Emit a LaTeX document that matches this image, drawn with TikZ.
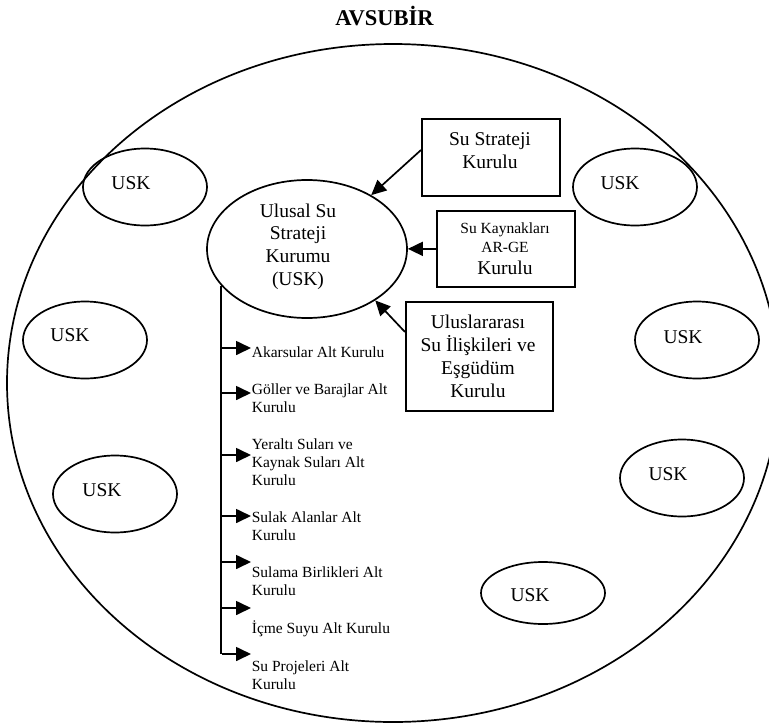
\documentclass[tikz,border=0pt]{standalone}
\usepackage{fontspec}
\setmainfont{Liberation Serif}
\usetikzlibrary{shapes.geometric,arrows.meta}
\newcommand\cvlines[1]{\vtop{\halign{\hfil##\hfil\cr#1\crcr}}}
\newcommand\lvlines[1]{\vtop{\halign{##\hfil\cr#1\crcr}}}
\begin{document}
\begin{tikzpicture}[x=1pt,y=-1pt,line width=1.7pt,
  usk/.style={ellipse,draw,minimum width=124pt,minimum height=77pt,inner sep=0pt},
  uskt/.style={inner sep=0pt,font=\fontsize{19.5}{23}\selectfont},
  bigt/.style={inner sep=0pt,anchor=base},
  smallt/.style={inner sep=0pt,font=\fontsize{15.5}{18}\selectfont,anchor=base west},
  boxn/.style={draw,rectangle,inner sep=0pt,anchor=north west},
  arr/.style={-{Triangle[length=15pt,width=14pt]}}]
\useasboundingbox (0,0) rectangle (769,726);
\clip (0,0) rectangle (769,726);
% title
\node[inner sep=0pt,anchor=base,font=\bfseries\fontsize{22.5}{27}\selectfont] (title) at (384.5,25) {AVSUBİR};
% big ellipse
\node[ellipse,draw,minimum width=772pt,minimum height=678pt,inner sep=0pt] (avs) at (393,383) {};
% USK ellipses
\node[usk] (u1) at (145,187) {};
\node[usk] (u2) at (635,187) {};
\node[usk] (u3) at (85,340) {};
\node[usk] (u4) at (115,494) {};
\node[usk] (u5) at (697,340) {};
\node[usk] (u6) at (682,478) {};
\node[usk,minimum height=62pt] (u7) at (543,593) {};
\node[uskt] (u1t) at ([shift={(-14pt,4pt)}]u1.center) {USK};
\node[uskt] (u2t) at ([shift={(-15pt,4pt)}]u2.center) {USK};
\node[uskt] (u3t) at ([shift={(-15pt,5pt)}]u3.center) {USK};
\node[uskt] (u4t) at ([shift={(-13pt,4pt)}]u4.center) {USK};
\node[uskt] (u5t) at ([shift={(-14pt,3pt)}]u5.center) {USK};
\node[uskt] (u6t) at ([shift={(-14pt,4pt)}]u6.center) {USK};
\node[uskt] (u7t) at ([shift={(-13pt,-2pt)}]u7.center) {USK};
% central ellipse
\node[ellipse,draw,minimum width=200pt,minimum height=138pt,inner sep=0pt] (c) at (307,249) {};
\node[bigt,font=\fontsize{19.5}{22.7}\selectfont] (ct) at (298,217) {\cvlines{Ulusal Su\cr Strateji\cr Kurumu\cr (USK)}};
% boxes
\node[boxn,minimum width=138pt,minimum height=77pt] (b1) at (421,118) {};
\node[bigt,font=\fontsize{19.5}{23}\selectfont] (b1t) at (490,145) {\cvlines{Su Strateji\cr Kurulu}};
\node[boxn,minimum width=138pt,minimum height=76pt] (b2) at (436,210) {};
\node[bigt,font=\fontsize{15.5}{19}\selectfont] (b2t) at (505,233) {\cvlines{Su Kaynakları\cr AR-GE\cr\noalign{\vskip3pt}\fontsize{19.5}{23}\selectfont Kurulu}};
\node[boxn,minimum width=147pt,minimum height=109pt] (b3) at (405,301) {};
\node[bigt,font=\fontsize{19.5}{23.3}\selectfont] (b3t) at (478,328) {\cvlines{Uluslararası\cr Su İlişkileri ve\cr Eşgüdüm\cr Kurulu}};
% box arrows
\draw[arr] ([yshift=-32pt]b1.north west) -- (c.40);
\draw[arr] (b2.west) -- (b2.west -| c.east);
\draw[arr] ([yshift=-31pt]b3.north west) -- (c.-37);
% sub-committees
\node[smallt] (a1) at (251,357) {\lvlines{Akarsular Alt Kurulu}};
\node[smallt] (a2) at (251,394) {\lvlines{Göller ve Barajlar Alt\cr Kurulu}};
\node[smallt] (a3) at (251,449) {\lvlines{Yeraltı Suları ve\cr Kaynak Suları Alt\cr Kurulu}};
\node[smallt] (a4) at (251,522) {\lvlines{Sulak Alanlar Alt\cr Kurulu}};
\node[smallt] (a5) at (251,577) {\lvlines{Sulama Birlikleri Alt\cr Kurulu}};
\node[smallt] (a6) at (251,633) {\lvlines{İçme Suyu Alt Kurulu}};
\node[smallt] (a7) at (251,671) {\lvlines{Su Projeleri Alt\cr Kurulu}};
\coordinate (k1) at (222,348);
\coordinate (k2) at (222,393);
\coordinate (k3) at (222,455);
\coordinate (k4) at (222,516);
\coordinate (k5) at (222,562);
\coordinate (k6) at (222,608);
\coordinate (k7) at (222,654);
\draw (c.203) -- (c.203 |- k7);
\foreach \i in {1,...,7} {\draw[arr] (k\i) -- (k\i -| a\i.west);}
\end{tikzpicture}
\end{document}
